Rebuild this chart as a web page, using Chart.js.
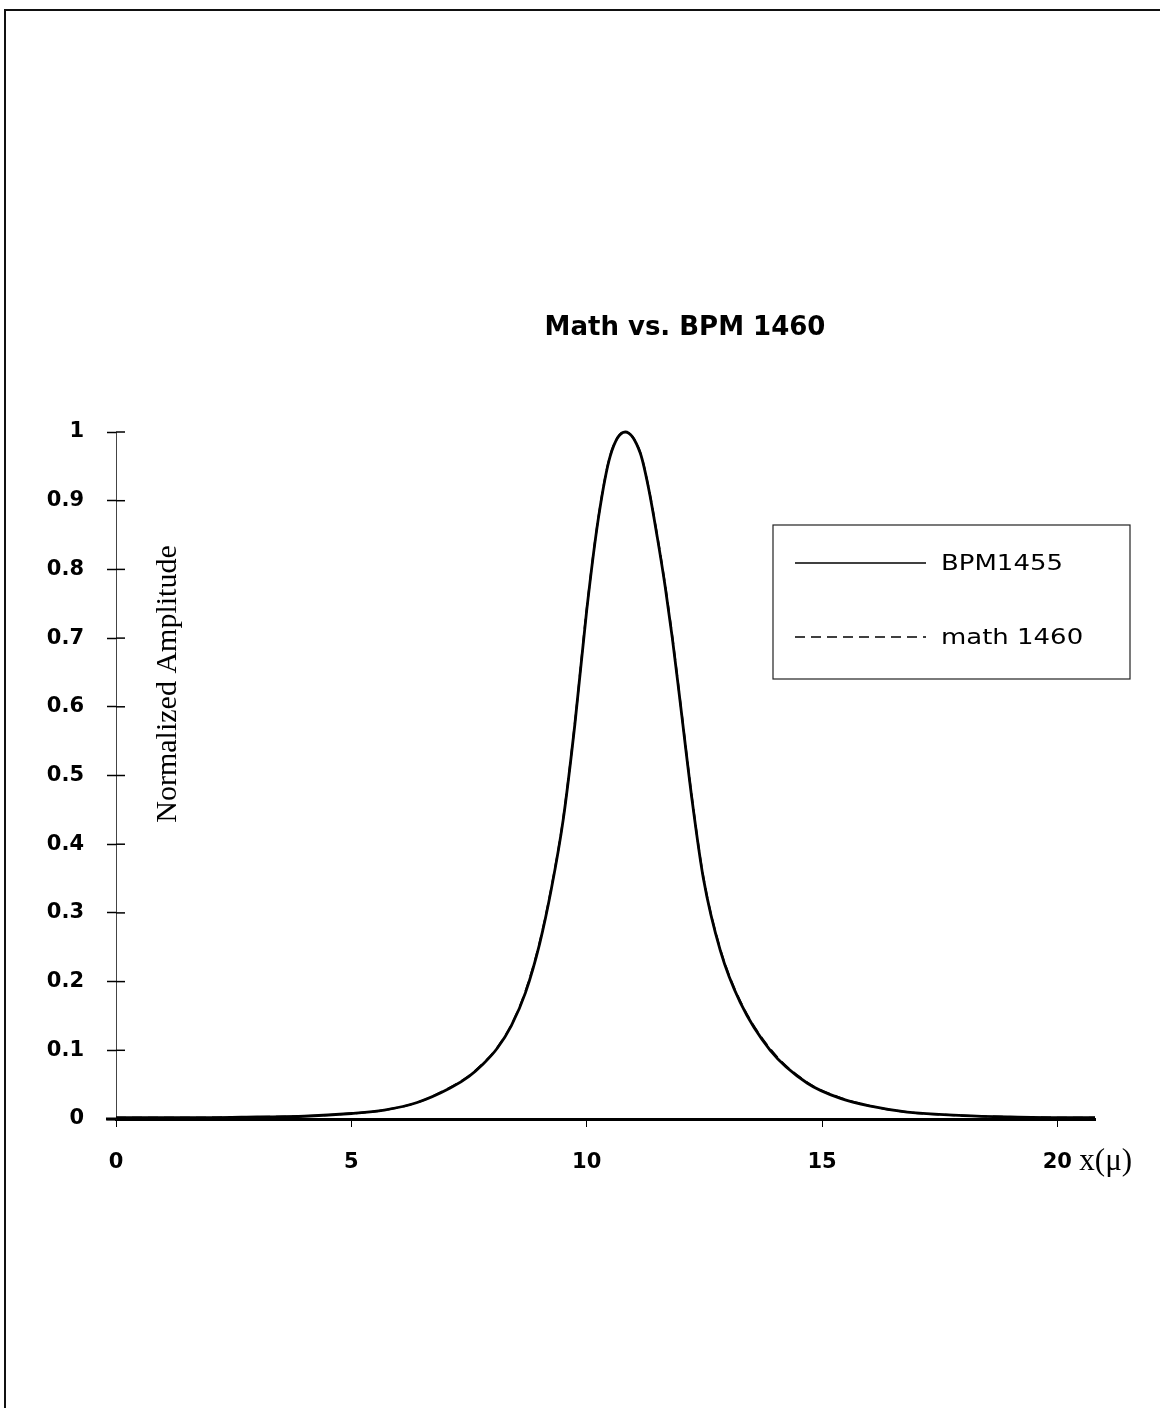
<!DOCTYPE html>
<html>
<head>
<meta charset="utf-8">
<script src="https://cdn.jsdelivr.net/npm/chart.js@4.4.1/dist/chart.umd.min.js"></script>
<style>
  html, body { margin: 0; padding: 0; background: #fff; }
  #wrap { position: relative; width: 1160px; height: 1408px; }
  canvas { display: block; }
</style>
</head>
<body>
<div id="wrap"><canvas id="c" width="1160" height="1408"></canvas></div>
<script>
// ---- data ----
const chartTitle = 'Math vs. BPM 1460';
const yAxisTitle = 'Normalized Amplitude';
const xAxisTitle = 'x(\u03bc)';
const seriesNames = ['BPM1455', 'math 1460'];

const xValues = [0, 1, 2, 3, 4, 5, 5.7, 6.4, 7.1, 7.5, 7.8, 8.1, 8.4, 8.7, 9.0, 9.25, 9.5, 9.75, 10.0, 10.25, 10.5, 10.82, 11.14, 11.31, 11.5, 11.67, 11.82, 11.99, 12.24, 12.48, 12.84, 13.26, 13.9, 14.69, 15.39, 16.09, 16.81, 18, 19, 20, 20.8];
const bpm1455 = [0.002, 0.002, 0.002, 0.003, 0.004, 0.008, 0.013, 0.024, 0.045, 0.062, 0.08, 0.103, 0.136, 0.184, 0.255, 0.335, 0.435, 0.575, 0.74, 0.875, 0.965, 1.0, 0.969, 0.92, 0.847, 0.774, 0.70, 0.605, 0.464, 0.35, 0.245, 0.17, 0.1, 0.052, 0.03, 0.018, 0.01, 0.005, 0.003, 0.002, 0.002];
const math1460 = [0.002, 0.002, 0.002, 0.003, 0.004, 0.008, 0.013, 0.024, 0.046, 0.063, 0.081, 0.104, 0.137, 0.186, 0.257, 0.337, 0.437, 0.577, 0.742, 0.876, 0.966, 1.0, 0.97, 0.921, 0.849, 0.776, 0.702, 0.607, 0.466, 0.352, 0.247, 0.172, 0.102, 0.053, 0.031, 0.018, 0.01, 0.005, 0.003, 0.002, 0.002];

const xMin = 0, xMax = 20.8, xStep = 5;
const yMin = 0, yMax = 1, yStep = 0.1;

function toPoints(xs, ys) { return xs.map((x, i) => ({ x: x, y: ys[i] })); }

const SANS = "'DejaVu Sans', 'Liberation Sans', Arial, sans-serif";
const SERIF = "'Liberation Serif', 'DejaVu Serif', 'Times New Roman', serif";

const decorPlugin = {
  id: 'decor',
  beforeDraw(chart) {
    const ctx = chart.ctx;
    ctx.save();
    ctx.fillStyle = '#fff';
    ctx.fillRect(0, 0, chart.width, chart.height);
    // page frame
    ctx.strokeStyle = '#111';
    ctx.lineWidth = 2;
    ctx.beginPath();
    ctx.moveTo(5, 1408);
    ctx.lineTo(5, 10);
    ctx.lineTo(1160, 10);
    ctx.stroke();
    ctx.restore();
  },
  afterDraw(chart) {
    const ctx = chart.ctx;
    const xs = chart.scales.x, ys = chart.scales.y;
    const ca = chart.chartArea;
    ctx.save();
    // title
    ctx.fillStyle = '#000';
    ctx.font = "bold 26px " + SANS;
    ctx.textAlign = 'center';
    ctx.textBaseline = 'middle';
    ctx.fillText(chartTitle, 685, 328);
    // y axis title (inside plot, rotated)
    ctx.save();
    ctx.translate(168, 684);
    ctx.rotate(-Math.PI / 2);
    ctx.font = "30px " + SERIF;
    ctx.fillText(yAxisTitle, 0, 0);
    ctx.restore();
    // x axis title next to last tick label
    ctx.font = "31px " + SERIF;
    ctx.textAlign = 'left';
    ctx.textBaseline = 'middle';
    ctx.fillText(xAxisTitle, xs.getPixelForValue(20) + 22, 1162);
    // right half of y tick crosses
    ctx.strokeStyle = '#000';
    ctx.lineWidth = 1.5;
    ys.ticks.forEach(t => {
      const py = ys.getPixelForValue(t.value);
      ctx.beginPath();
      ctx.moveTo(ca.left, py);
      ctx.lineTo(ca.left + 9, py);
      ctx.stroke();
    });
    // x axis stub left of the y axis
    const y0 = ys.getPixelForValue(0);
    ctx.lineWidth = 3;
    ctx.beginPath();
    ctx.moveTo(106, y0);
    ctx.lineTo(ca.left, y0);
    ctx.stroke();
    // legend
    const bx = 773, by = 525, bw = 357, bh = 154;
    ctx.lineWidth = 1.2;
    ctx.strokeStyle = '#222';
    ctx.strokeRect(bx, by, bw, bh);
    const rows = [563, 637];
    chart.data.datasets.forEach((ds, i) => {
      const ry = rows[i];
      ctx.save();
      ctx.strokeStyle = ds.borderColor;
      ctx.lineWidth = 1.6;
      ctx.setLineDash(ds.borderDash || []);
      ctx.beginPath();
      ctx.moveTo(795, ry);
      ctx.lineTo(926, ry);
      ctx.stroke();
      ctx.restore();
      ctx.fillStyle = '#000';
      ctx.font = "22px " + SANS;
      ctx.textAlign = 'left';
      ctx.textBaseline = 'middle';
      ctx.save();
      ctx.translate(941, ry + 1);
      ctx.scale(1.18, 1);
      ctx.fillText(ds.label, 0, 0);
      ctx.restore();
    });
    ctx.restore();
  }
};

new Chart(document.getElementById('c'), {
  type: 'line',
  data: {
    datasets: [
      {
        label: seriesNames[0],
        data: toPoints(xValues, bpm1455),
        borderColor: '#000',
        borderWidth: 2.8,
        pointRadius: 0,
        cubicInterpolationMode: 'monotone',
        fill: false
      },
      {
        label: seriesNames[1],
        data: toPoints(xValues, math1460),
        borderColor: '#000',
        borderWidth: 2,
        borderDash: [10, 6],
        pointRadius: 0,
        cubicInterpolationMode: 'monotone',
        fill: false
      }
    ]
  },
  options: {
    responsive: false,
    animation: false,
    devicePixelRatio: 1,
    clip: false,
    layout: { padding: { left: 0, right: 65, top: 432, bottom: 0 } },
    plugins: {
      legend: { display: false },
      title: { display: false },
      tooltip: { enabled: false }
    },
    scales: {
      x: {
        type: 'linear',
        min: xMin,
        max: xMax,
        afterFit(scale) { scale.height = 289; },
        ticks: {
          stepSize: xStep,
          includeBounds: false,
          color: '#000',
          padding: 23,
          maxRotation: 0,
          font: { family: SANS, size: 21, weight: 'bold' }
        },
        grid: {
          drawOnChartArea: false,
          drawTicks: true,
          tickLength: 8,
          tickColor: '#000',
          tickWidth: 1
        },
        border: { display: true, color: '#000', width: 3 }
      },
      y: {
        type: 'linear',
        min: yMin,
        max: yMax,
        afterFit(scale) { scale.width = 116; },
        ticks: {
          stepSize: yStep,
          color: '#000',
          padding: 23,
          font: { family: SANS, size: 21, weight: 'bold' },
          callback: (v) => String(Math.round(v * 10) / 10)
        },
        grid: {
          drawOnChartArea: false,
          drawTicks: true,
          tickLength: 9,
          tickColor: '#000',
          tickWidth: 1.5
        },
        border: { display: true, color: '#444', width: 1, dash: [6, 4] }
      }
    }
  },
  plugins: [decorPlugin]
});
</script>
</body>
</html>
